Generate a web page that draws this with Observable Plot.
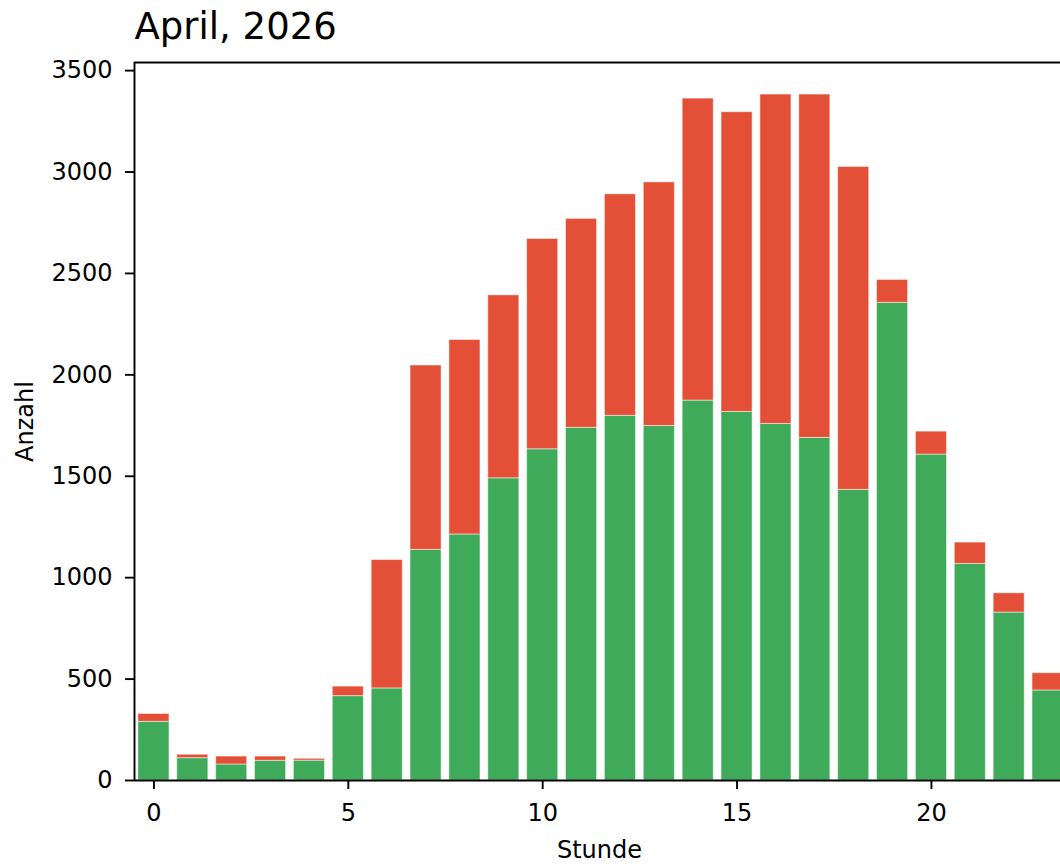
<!DOCTYPE html>
<html>
<head>
<meta charset="utf-8">
<script src="https://cdn.jsdelivr.net/npm/d3@7"></script>
<script src="https://cdn.jsdelivr.net/npm/@observablehq/plot@0.6"></script>
<style>
  html, body { margin: 0; padding: 0; background: #fff; }
  #chart { width: 1060px; height: 864px; overflow: hidden; }
</style>
</head>
<body>
<div id="chart"></div>
<script>
const title = "April, 2026";
const xLabel = "Stunde";
const yLabel = "Anzahl";
const hours = [0,1,2,3,4,5,6,7,8,9,10,11,12,13,14,15,16,17,18,19,20,21,22,23];
const greenValues = [289,110,79,97,98,416,454,1137,1213,1490,1633,1739,1798,1748,1873,1817,1758,1689,1433,2355,1607,1068,828,444];
const redValues = [39,17,39,21,9,47,633,909,959,902,1037,1030,1092,1201,1489,1478,1624,1693,1592,113,113,105,95,85];
const xTicks = [0,5,10,15,20];
const yTicks = [0,500,1000,1500,2000,2500,3000,3500];

const GREEN = "#3eaa5a";
const RED = "#e45037";
const FONT = "DejaVu Sans";

const rows = hours.map((h, i) => ({hour: h, green: greenValues[i], red: redValues[i], total: greenValues[i] + redValues[i]}));

const plot = Plot.plot({
  width: 1060,
  height: 864,
  marginLeft: 134,
  marginRight: 0,
  marginTop: 62,
  marginBottom: 84,
  style: {fontFamily: FONT, fontSize: "24px", color: "#000", background: "#fff"},
  x: {type: "linear", domain: [-0.5, 23.5], range: [134, 1067], axis: null},
  y: {type: "linear", domain: [0, 3540], range: [780, 62], axis: null},
  marks: [
    Plot.rectY(rows, {x1: d => d.hour - 0.5, x2: d => d.hour + 0.5, y1: 0, y2: "green", insetLeft: 3.9, insetRight: 3.9, fill: GREEN, stroke: "#fff", strokeOpacity: 0.5, strokeWidth: 1}),
    Plot.rectY(rows, {x1: d => d.hour - 0.5, x2: d => d.hour + 0.5, y1: "green", y2: "total", insetLeft: 3.9, insetRight: 3.9, fill: RED, stroke: "#fff", strokeOpacity: 0.5, strokeWidth: 1}),
    Plot.axisX({ticks: xTicks, tickSize: 9, tickPadding: 14, tickFormat: d => String(d), fontSize: 24, strokeWidth: 1.9, label: null, stroke: "#000", fill: "#000"}),
    Plot.axisY({ticks: yTicks, tickSize: 9, tickPadding: 13, tickFormat: d => String(d), fontSize: 24, strokeWidth: 1.9, label: null, stroke: "#000", fill: "#000"}),
    Plot.ruleY([0], {stroke: "#000", strokeWidth: 1.9}),
    Plot.ruleY([3540], {stroke: "#000", strokeWidth: 1.9}),
    Plot.ruleX([-0.5], {stroke: "#000", strokeWidth: 1.9}),
    Plot.text([title], {frameAnchor: "top-left", dy: -24, textAnchor: "start", lineAnchor: "bottom", fontSize: 37, fill: "#000"}),
    Plot.text([xLabel], {frameAnchor: "bottom", dx: 2, dy: 77, textAnchor: "middle", lineAnchor: "bottom", fontSize: 24, fill: "#000"}),
    Plot.text([yLabel], {frameAnchor: "left", dx: -102, rotate: -90, textAnchor: "middle", lineAnchor: "bottom", fontSize: 24, fill: "#000"})
  ]
});
document.getElementById("chart").appendChild(plot);
</script>
</body>
</html>
